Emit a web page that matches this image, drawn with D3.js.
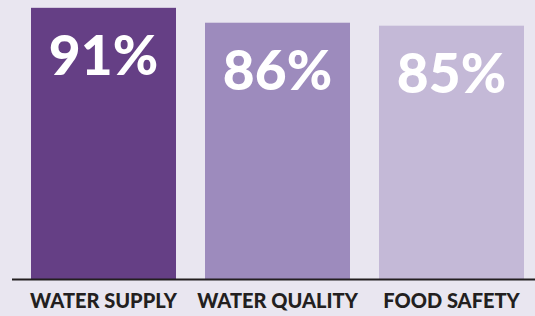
<!DOCTYPE html>
<html>
<head>
<meta charset="utf-8">
<script src="https://cdn.jsdelivr.net/npm/d3@7"></script>
<style>
  html, body { margin: 0; padding: 0; background: #e9e6f0; }
  svg { display: block; }
</style>
</head>
<body>
<svg id="chart" width="535" height="316"></svg>
<script>
// data
var categories = ['WATER SUPPLY', 'WATER QUALITY', 'FOOD SAFETY'];
var values = [91, 86, 85];
var labels = ['91%', '86%', '85%'];
var colors = ['#653f85', '#9d8bbd', '#c4b9d7'];

var svg = d3.select('#chart');
var width = 535, height = 316;
var baseY = 279;

//  scales
var x = d3.scaleBand()
    .domain(categories)
    .range([31, 524])
    .paddingInner(29 / 174)
    .paddingOuter(0);

var y = d3.scaleLinear()
    .domain([0, 100])
    .range([baseY, baseY - 298]);

svg.append('rect')
    .attr('width', width)
    .attr('height', height)
    .attr('fill', '#e9e6f0');

//  bars
svg.selectAll('rect.bar')
    .data(values)
    .enter().append('rect')
    .attr('class', 'bar')
    .attr('x', function(d, i) { return x(categories[i]); })
    .attr('y', function(d) { return y(d); })
    .attr('width', x.bandwidth())
    .attr('height', function(d) { return y(0) - y(d); })
    .attr('fill', function(d, i) { return colors[i]; });

//  baseline
svg.append('line')
    .attr('x1', 12).attr('x2', width)
    .attr('y1', baseY + 0.5).attr('y2', baseY + 0.5)
    .attr('stroke', '#231f20')
    .attr('stroke-width', 2);

//  value labels
svg.selectAll('text.val')
    .data(values)
    .enter().append('text')
    .attr('class', 'val')
    .attr('x', function(d, i) { return x(categories[i]) + x.bandwidth() / 2; })
    .attr('y', function(d) { return y(d) + 67; })
    .attr('text-anchor', 'middle')
    .attr('fill', '#ffffff')
    .style('font-family', 'Lato, "DejaVu Sans", sans-serif')
    .style('font-weight', 900)
    .style('font-size', '55px')
    .text(function(d, i) { return labels[i]; });

//  category labels
var xAxis = d3.axisBottom(x).tickSize(0).tickPadding(0);
var gx = svg.append('g')
    .attr('transform', 'translate(0,' + (baseY + 15) + ')')
    .call(xAxis);
gx.select('.domain').remove();
gx.selectAll('text')
    .attr('fill', '#231f20')
    .style('font-family', 'Lato, "DejaVu Sans", sans-serif')
    .style('font-weight', 900)
    .style('font-size', '20px');
</script>
</body>
</html>
